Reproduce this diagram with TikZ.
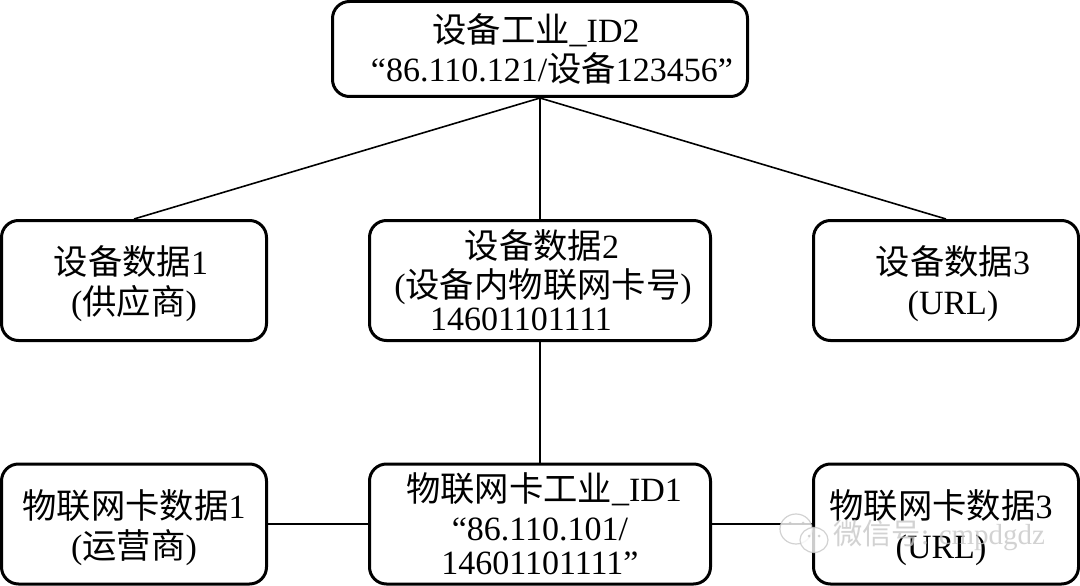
\documentclass[tikz,border=0pt]{standalone}
\usepackage{fontspec}
\setmainfont{Liberation Serif}
\newfontfamily\cjk{Noto Sans CJK SC}[Scale=1.01]
\newcommand{\C}[1]{{\cjk #1}}
\newcommand{\Dn}{\rule{0pt}{36pt}}
\definecolor{wm}{gray}{0.78}
\tikzset{
  box/.style={draw=black,line width=3pt,rounded corners=17pt,minimum height=120pt,inner sep=0pt,align=center,font=\fontsize{34pt}{40pt}\selectfont,text=black},
  wide/.style={minimum width=265pt},
  mid/.style={minimum width=341pt},
  link/.style={draw=black,line width=1.6pt},
  water/.style={text=wm,inner sep=0pt,font=\fontsize{29pt}{29pt}\selectfont},
  eye/.style={fill=wm,circle,inner sep=0pt,minimum size=3pt}
}
\begin{document}
\begin{tikzpicture}[x=1pt,y=-1pt]
\useasboundingbox (0,0) rectangle (1080,586);
\fill[white] (0,0) rectangle (1080,586);
\node[box,minimum width=415pt,minimum height=95pt] (top) at (540,49) {\hspace*{-8pt}\C{设备工业}\_ID2\\[-1pt]\hspace*{24pt}“86.110.121/\C{设备}123456”};
\node[box,wide] (d1) at (134,280.5) {\Dn\hspace*{-6pt}\C{设备数据}1\\(\C{供应商})};
\node[box,mid] (d2) at (540,280.5) {\hspace*{4pt}\C{设备数据}2\\[-1pt]\hspace*{6pt}(\C{设备内物联网卡号})\\[-7pt]\hspace*{-38pt}14601101111};
\node[box,wide] (d3) at (946,280.5) {\Dn\hspace*{14pt}\C{设备数据}3\\\hspace*{14pt}(URL)};
\node[box,wide] (c1) at (134,524) {\Dn\C{物联网卡数据}1\\(\C{运营商})};
\node[box,mid] (c2) at (540,524) {\hspace*{8pt}\C{物联网卡工业}\_ID1\\[-1pt]“86.110.101/\\[-6pt]14601101111”};
\node[box,wide] (c3) at (946,524) {\Dn\hspace*{-10pt}\C{物联网卡数据}3\\\hspace*{-10pt}(URL)};
\draw[link] (top.south) -- (d1.north);
\draw[link] (top.south) -- (d2.north);
\draw[link] (top.south) -- (d3.north);
\draw[link] (d2.south) -- (c2.north);
\draw[link] (c1.east) -- (c2.west);
\draw[link] (c2.east) -- (c3.west);
\begin{scope}[opacity=0.8]
\path[draw=wm,fill=white,line width=1.2pt] (796,529) ellipse (16pt and 15pt);
\node[eye] at (790,523) {};
\node[eye] at (803,523) {};
\path[draw=wm,fill=white,line width=1.2pt] (814,540) ellipse (14pt and 12.5pt);
\node[eye] at (809,536) {};
\node[eye] at (819,536) {};
\node[water,anchor=west] (mark) at (833,535) {\C{微信号}: cmpdgdz};
\end{scope}
\end{tikzpicture}
\end{document}
